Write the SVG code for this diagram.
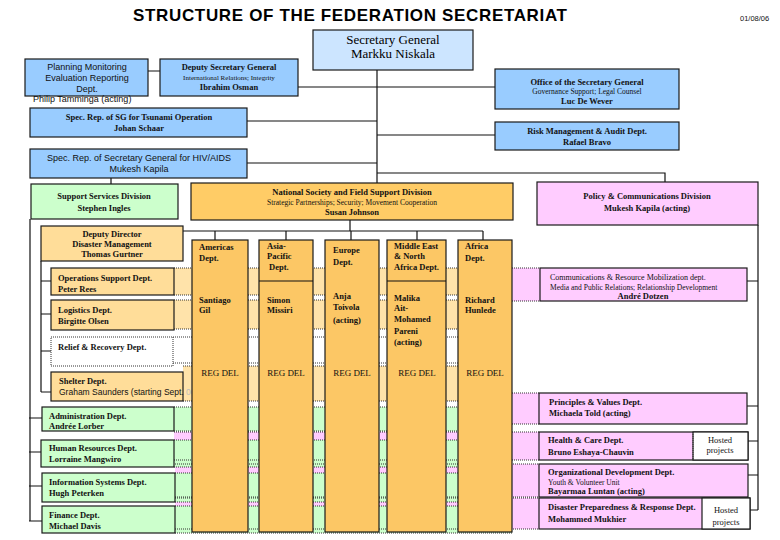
<svg xmlns="http://www.w3.org/2000/svg" width="780" height="540" viewBox="0 0 780 540">
<style>
.bx{stroke:#1a1a1a;stroke-width:1.2}
.blue{fill:#99CCFF}.sg{fill:#CCE5FF}.grn{fill:#CCFFCC}.org{fill:#FFCC66}.lor{fill:#FFDD99}.pnk{fill:#FFCCFF}.wht{fill:#FFFFFF}
.col{fill:#FCC765;stroke:#1a1a1a;stroke-width:1.2}
.ln{stroke:#111;stroke-width:1.2;fill:none}
.dot{stroke:#333;stroke-width:1;stroke-dasharray:1,1;fill:none}
.b{font-family:"Liberation Serif","Times New Roman",serif;font-weight:bold;font-size:8.5px;fill:#111}
.r{font-family:"Liberation Serif","Times New Roman",serif;font-size:7.5px;fill:#111}
.s{font-family:"Liberation Sans",Arial,sans-serif;font-size:9px;fill:#111}
.c{text-anchor:middle}
</style>
<text x="350" y="21" text-anchor="middle" font-family="Liberation Sans, Arial, sans-serif" font-weight="bold" font-size="17" textLength="434" fill="#000">STRUCTURE OF THE FEDERATION SECRETARIAT</text>
<text x="740" y="21" font-family="Liberation Sans, Arial, sans-serif" font-size="7.5" fill="#111">01/08/06</text>

<g id="bands">
<rect x="174" y="268" width="338" height="27" fill="#FFE3AA"/>
<rect x="512" y="268" width="28" height="33" fill="#FFCCFF"/>
<rect x="174" y="300" width="338" height="29" fill="#FFE3AA"/>
<rect x="183" y="366" width="329" height="35" fill="#FFE3AA"/>
<rect x="512" y="393" width="27" height="31" fill="#FFCCFF"/>
<rect x="174" y="432" width="365" height="28" fill="#FFCCFF"/>
<rect x="175" y="464" width="364" height="33" fill="#FFCCFF"/>
<rect x="175" y="498" width="364" height="31" fill="#FFCCFF"/>
<rect x="174" y="407" width="338" height="24" fill="#CCFFCC"/>
<rect x="174" y="440" width="338" height="27" fill="#CCFFCC"/>
<rect x="175" y="473" width="337" height="29" fill="#CCFFCC"/>
<rect x="175" y="506" width="337" height="27" fill="#CCFFCC"/>
<path class="dot" d="M174 268H540M174 295H512M512 301H540M174 300H512M174 329H512M173 337H512M173 363H512M183 366H512M183 401H512M512 393H539M512 424H539M174 432H539M174 460H539M175 464H539M175 497H539M175 498H539M175 529H539M174 407H512M174 431H512M174 440H512M174 467H512M175 473H512M175 502H512M175 506H512M175 533H512"/>
</g>

<g id="connectors">
<path class="ln" d="M377 70V183M298 87H495M247 121H377M377 135H495M247 163H377M377 173H665V182M148 71H160M111 178V184M350 220V231M183 231H483M215 231V240M286 231V240M351 231V240M417 231V240M483 231V240M30 219V521M29 418H42M29 452H41M29 486H42M29 521H42M41 261V392M41 281H51M41 314H51M41 351H51M41 392H51M758 225V510M747 281H758M747 406H758M748 441H758M748 475H758M750 510H758"/>
</g>

<g id="sg"><rect class="bx sg" x="313" y="30" width="160" height="40"/>
<text x="393" y="44" text-anchor="middle" font-family="Liberation Serif, Times New Roman, serif" font-size="13" fill="#000">Secretary General</text>
<text x="393" y="58" text-anchor="middle" font-family="Liberation Serif, Times New Roman, serif" font-size="13" fill="#000">Markku Niskala</text></g>

<g id="planning"><rect class="bx blue" x="25" y="59" width="123" height="37"/>
<text class="s c" x="87" y="70">Planning Monitoring</text>
<text class="s c" x="87" y="81">Evaluation Reporting</text>
<text class="s c" x="87" y="92">Dept.</text>
<text class="s" x="33" y="102">Philip Tamminga (acting)</text></g>

<g id="deputy-sg"><rect class="bx blue" x="160" y="59" width="138" height="37"/>
<text class="b c" x="229" y="70">Deputy Secretary General</text>
<text class="r c" x="229" y="80" style="font-size:7px">International Relations; Integrity</text>
<text class="b c" x="229" y="90">Ibrahim Osman</text></g>

<g id="office-sg"><rect class="bx blue" x="495" y="69" width="184" height="40"/>
<text class="b c" x="587" y="85">Office of the Secretary General</text>
<text class="r c" x="587" y="94">Governance Support; Legal Counsel</text>
<text class="b c" x="587" y="104">Luc De Wever</text></g>

<g id="tsunami"><rect class="bx blue" x="30" y="108" width="217" height="29"/>
<text class="b c" x="139" y="120">Spec. Rep. of SG for Tsunami Operation</text>
<text class="b c" x="139" y="131">Johan Schaar</text></g>

<g id="risk"><rect class="bx blue" x="495" y="122" width="184" height="28"/>
<text class="b c" x="587" y="134">Risk Management &amp; Audit Dept.</text>
<text class="b c" x="587" y="145">Rafael Bravo</text></g>

<g id="hiv"><rect class="bx blue" x="30" y="149" width="217" height="29"/>
<text class="s c" x="139" y="161">Spec. Rep. of Secretary General for HIV/AIDS</text>
<text class="s c" x="139" y="172">Mukesh Kapila</text></g>

<g id="support"><rect class="bx grn" x="31" y="184" width="147" height="35"/>
<text class="b c" x="104" y="199">Support Services Division</text>
<text class="b c" x="104" y="211">Stephen Ingles</text></g>

<g id="natsoc"><rect class="bx org" x="191" y="183" width="322" height="37"/>
<text class="b c" x="352" y="195">National Society and Field Support Division</text>
<text class="r c" x="352" y="205">Strategic Partnerships; Security; Movement Cooperation</text>
<text class="b c" x="352" y="215">Susan Johnson</text></g>

<g id="policy"><rect class="bx pnk" x="537" y="182" width="221" height="43"/>
<text class="b c" x="647" y="199">Policy &amp; Communications Division</text>
<text class="b c" x="647" y="211">Mukesh Kapila (acting)</text></g>

<g id="depdir"><rect class="bx lor" x="41" y="226" width="142" height="35"/>
<text class="b c" x="112" y="237">Deputy Director</text>
<text class="b c" x="112" y="247">Disaster Management</text>
<text class="b c" x="112" y="257">Thomas Gurtner</text></g>

<g id="ops"><rect class="bx lor" x="51" y="268" width="123" height="27"/>
<text class="b" x="58" y="281">Operations Support Dept.</text>
<text class="b" x="58" y="292">Peter Rees</text></g>

<g id="logistics"><rect class="bx lor" x="51" y="300" width="123" height="30"/>
<text class="b" x="58" y="313">Logistics Dept.</text>
<text class="b" x="58" y="324">Birgitte Olsen</text></g>

<g id="relief"><rect class="dot" x="51" y="337" width="122" height="29" style="fill:#fff"/>
<text class="b" x="58" y="350">Relief &amp; Recovery Dept.</text></g>

<g id="shelter"><rect class="bx lor" x="51" y="372" width="132" height="29"/>
<text class="b" x="59" y="384">Shelter Dept.</text>
<text class="s" x="59" y="395" style="font-size:8.5px">Graham Saunders (starting Sept.<tspan fill="#bbb"> 06 )</tspan></text></g>

<g id="admin"><rect class="bx grn" x="42" y="407" width="132" height="24"/>
<text class="b" x="49" y="419">Administration Dept.</text>
<text class="b" x="49" y="429">Andrée Lorber</text></g>

<g id="hr"><rect class="bx grn" x="41" y="440" width="133" height="27"/>
<text class="b" x="49" y="451">Human Resources Dept.</text>
<text class="b" x="49" y="462">Lorraine Mangwiro</text></g>

<g id="is"><rect class="bx grn" x="42" y="473" width="133" height="29"/>
<text class="b" x="49" y="485">Information Systems Dept.</text>
<text class="b" x="49" y="496">Hugh Peterken</text></g>

<g id="finance"><rect class="bx grn" x="42" y="506" width="133" height="27"/>
<text class="b" x="49" y="518">Finance Dept.</text>
<text class="b" x="49" y="529">Michael Davis</text></g>

<g id="americas"><rect class="col" x="192" y="240" width="56" height="292"/>
<text class="b" x="199" y="250">Americas</text><text class="b" x="199" y="261">Dept.</text>
<text class="b" x="199" y="303">Santiago</text><text class="b" x="199" y="313">Gil</text>
<text class="b c" x="220" y="376" style="font-weight:normal;font-size:9px">REG DEL</text></g>

<g id="asia-pacific"><rect class="col" x="259" y="240" width="54" height="292"/>
<path class="ln" d="M259 281H313"/>
<text class="b" x="267" y="249">Asia-</text><text class="b" x="267" y="259">Pacific</text><text class="b" x="269" y="270">Dept.</text>
<text class="b" x="267" y="303">Simon</text><text class="b" x="267" y="313">Missiri</text>
<text class="b c" x="286" y="376" style="font-weight:normal;font-size:9px">REG DEL</text></g>

<g id="europe"><rect class="col" x="325" y="240" width="54" height="292"/>
<text class="b" x="333" y="253">Europe</text><text class="b" x="333" y="265">Dept.</text>
<text class="b" x="333" y="299">Anja</text><text class="b" x="333" y="310">Toivola</text><text class="b" x="333" y="323">(acting)</text>
<text class="b c" x="352" y="376" style="font-weight:normal;font-size:9px">REG DEL</text></g>

<g id="mena"><rect class="col" x="387" y="240" width="59" height="292"/>
<path class="ln" d="M387 281H446"/>
<text class="b" x="394" y="249">Middle East</text><text class="b" x="394" y="259">&amp; North</text><text class="b" x="394" y="270">Africa Dept.</text>
<text class="b" x="394" y="301">Malika</text><text class="b" x="394" y="311">Ait-</text><text class="b" x="394" y="322">Mohamed</text><text class="b" x="394" y="334">Pareni</text><text class="b" x="394" y="345">(acting)</text>
<text class="b c" x="417" y="376" style="font-weight:normal;font-size:9px">REG DEL</text></g>

<g id="africa"><rect class="col" x="458" y="240" width="54" height="292"/>
<text class="b" x="465" y="249">Africa</text><text class="b" x="465" y="261">Dept.</text>
<text class="b" x="465" y="303">Richard</text><text class="b" x="465" y="313">Hunlede</text>
<text class="b c" x="485" y="376" style="font-weight:normal;font-size:9px">REG DEL</text></g>

<g id="communications"><rect class="bx pnk" x="540" y="268" width="207" height="33"/>
<text class="r" x="550" y="280" style="font-size:8px">Communications &amp; Resource Mobilization dept.</text>
<text class="r" x="550" y="290">Media and Public Relations; Relationship Development</text>
<text class="b c" x="643" y="299">André Dotzen</text></g>

<g id="principles"><rect class="bx pnk" x="539" y="393" width="208" height="31"/>
<text class="b" x="549" y="405">Principles &amp; Values Dept.</text>
<text class="b" x="549" y="416">Michaela Told (acting)</text></g>

<g id="health"><rect class="bx pnk" x="539" y="432" width="209" height="28"/>
<rect x="693" y="432" width="55" height="28" fill="#fff" stroke="#1a1a1a" stroke-width="1.2"/>
<path class="dot" d="M693 432V460"/>
<text class="b" x="548" y="443">Health &amp; Care Dept.</text>
<text class="b" x="548" y="455">Bruno Eshaya-Chauvin</text>
<text class="r c" x="720" y="443" style="font-size:8.5px">Hosted</text>
<text class="r c" x="720" y="453" style="font-size:8.5px">projects</text></g>

<g id="od"><rect class="bx pnk" x="539" y="464" width="209" height="33"/>
<text class="b" x="548" y="475">Organizational Development Dept.</text>
<text class="r" x="548" y="485">Youth &amp; Volunteer Unit</text>
<text class="b" x="548" y="494">Bayarmaa Luntan (acting)</text></g>

<g id="dp"><rect class="bx pnk" x="539" y="498" width="211" height="31"/>
<rect x="702" y="498" width="48" height="31" fill="#fff" stroke="#1a1a1a" stroke-width="1.2"/>
<text class="b" x="548" y="510">Disaster Preparedness &amp; Response Dept.</text>
<text class="b" x="548" y="522">Mohammed Mukhier</text>
<text class="r c" x="726" y="513" style="font-size:8.5px">Hosted</text>
<text class="r c" x="726" y="525" style="font-size:8.5px">projects</text></g>
</svg>
